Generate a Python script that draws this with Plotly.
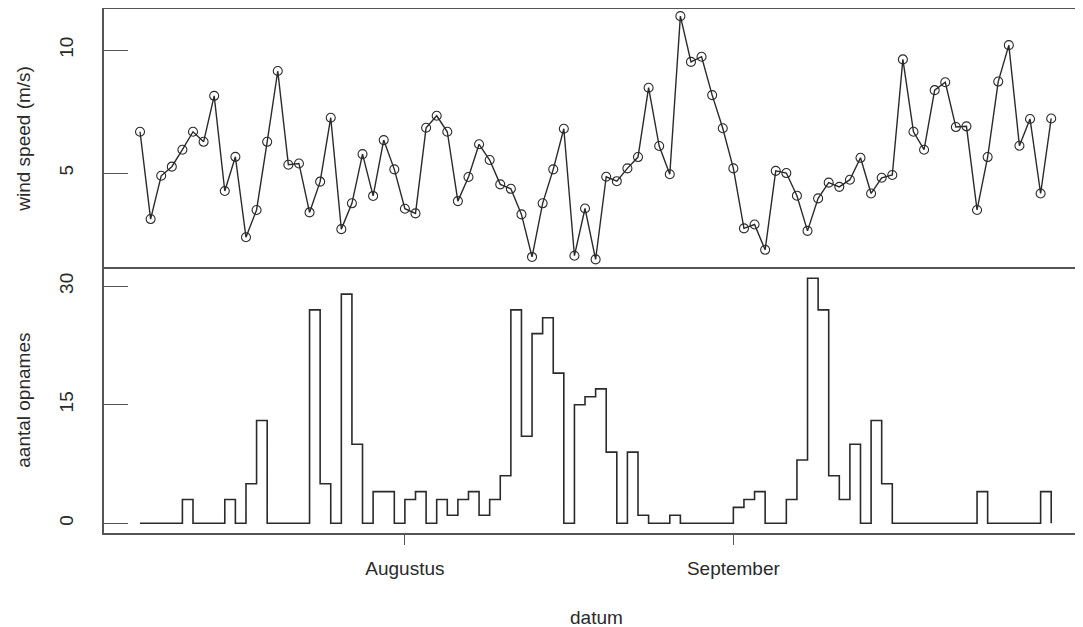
import pandas as pd
import plotly.graph_objects as go
from plotly.subplots import make_subplots

start_date = "2023-07-07"
wind_speed = [6.68, 3.13, 4.89, 5.26, 5.95, 6.68, 6.27, 8.14, 4.27, 5.66,
              2.39, 3.50, 6.27, 9.15, 5.34, 5.39, 3.40, 4.65, 7.25, 2.72,
              3.77, 5.77, 4.07, 6.34, 5.15, 3.55, 3.36, 6.84, 7.33, 6.68,
              3.86, 4.84, 6.17, 5.53, 4.54, 4.36, 3.32, 1.59, 3.77, 5.15,
              6.80, 1.64, 3.56, 1.49, 4.85, 4.67, 5.19, 5.65, 8.47, 6.10,
              4.95, 11.38, 9.52, 9.73, 8.17, 6.82, 5.19, 2.75, 2.91, 1.88,
              5.09, 5.00, 4.08, 2.65, 3.97, 4.61, 4.44, 4.73, 5.62, 4.17,
              4.81, 4.92, 9.62, 6.68, 5.95, 8.37, 8.69, 6.87, 6.90, 3.50,
              5.65, 8.72, 10.20, 6.11, 7.20, 4.17, 7.22]
opnames = [0, 0, 0, 0, 3, 0, 0, 0, 3, 0,
           5, 13, 0, 0, 0, 0, 27, 5, 0, 29,
           10, 0, 4, 4, 0, 3, 4, 0, 3, 1,
           3, 4, 1, 3, 6, 27, 11, 24, 26, 19,
           0, 15, 16, 17, 9, 0, 9, 1, 0, 0,
           1, 0, 0, 0, 0, 0, 2, 3, 4, 0,
           0, 3, 8, 31, 27, 6, 3, 10, 0, 13,
           5, 0, 0, 0, 0, 0, 0, 0, 0, 4,
           0, 0, 0, 0, 0, 4, 0]
month_ticks = ["2023-08-01", "2023-09-01"]
month_labels = ["Augustus", "September"]
wind_ticks = [5, 10]
count_ticks = [0, 15, 30]

dates = pd.date_range(start_date, periods=len(wind_speed), freq="D")

INK = "#2a2a2a"
FRAME = "#555555"
FONT = dict(family="Liberation Sans, Arial, sans-serif", size=19, color=INK)

fig = make_subplots(rows=2, cols=1, shared_xaxes=True, vertical_spacing=0)

fig.add_trace(go.Scatter(
    x=dates, y=wind_speed, mode="lines+markers",
    line=dict(color=INK, width=1.4),
    marker=dict(symbol="circle-open", size=9, color=INK, line=dict(width=1.1)),
    showlegend=False), row=1, col=1)

fig.add_trace(go.Scatter(
    x=dates, y=opnames, mode="lines", line_shape="hv",
    line=dict(color=INK, width=1.6), showlegend=False), row=2, col=1)

# page body has an 8px margin; figure sized/offset to compensate
W, H = 1075, 619
ML, MT, MB = 96, 1, 94
plot_h = H - MT - MB
x_range = ["2023-07-03 14:24", "2023-10-04 00:00"]
split = (533 - 268.5) / plot_h

common_x = dict(range=x_range, showline=True, linecolor=FRAME, linewidth=1.6,
                showgrid=False, zeroline=False, automargin=False)
common_y = dict(tickmode="array", ticks="inside", ticklen=24, tickcolor=FRAME,
                tickwidth=1.4, tickangle=-90, showline=True, linecolor=FRAME,
                linewidth=1.6, showgrid=False, zeroline=False,
                ticklabelstandoff=22, automargin=False)
fig.update_layout(
    width=W, height=H,
    margin=dict(l=ML, r=0, t=MT, b=MB),
    plot_bgcolor="white", paper_bgcolor="white",
    font=FONT,
    xaxis=dict(**common_x, side="top", showticklabels=False, ticks=""),
    xaxis2=dict(**common_x, mirror=True, tickmode="array", tickvals=month_ticks,
                ticktext=month_labels, ticks="outside", ticklen=10,
                tickcolor=FRAME, tickwidth=1.4, ticklabelstandoff=7),
    yaxis=dict(**common_y, domain=[split, 1], range=[1.12, 11.67],
               tickvals=wind_ticks),
    yaxis2=dict(**common_y, domain=[0, split], range=[-1.24, 32.24],
                tickvals=count_ticks),
)

fig.add_annotation(text="wind speed (m/s)", xref="paper", yref="paper",
                   x=0, y=(split + 1) / 2, xshift=-80, textangle=-90,
                   showarrow=False, xanchor="center", yanchor="middle", font=FONT)
fig.add_annotation(text="aantal opnames", xref="paper", yref="paper",
                   x=0, y=split / 2, xshift=-80, textangle=-90,
                   showarrow=False, xanchor="center", yanchor="middle", font=FONT)
fig.add_annotation(text="datum", xref="paper", yref="paper",
                   x=(596 - 104) / 979, y=0, yshift=-84,
                   showarrow=False, xanchor="center", yanchor="middle", font=FONT)

fig.write_html("out.html")
